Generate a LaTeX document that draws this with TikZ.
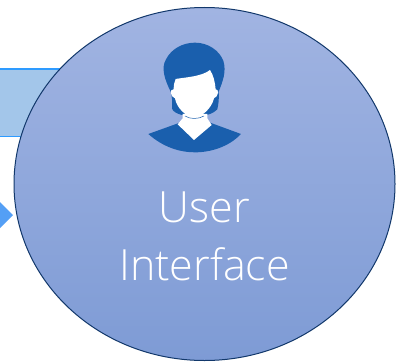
\documentclass[tikz,border=0pt]{standalone}
\usepackage{fontspec}
\setmainfont{Open Sans Light}
\usetikzlibrary{shapes.geometric}
\definecolor{barfill}{HTML}{A3C6EA}
\definecolor{barline}{HTML}{2E9BFF}
\definecolor{tipfill}{HTML}{549FF5}
\definecolor{circline}{HTML}{12386B}
\definecolor{circtop}{HTML}{A1B4E2}
\definecolor{circbot}{HTML}{7E9BD5}
\definecolor{person}{HTML}{1A5FAD}
\tikzset{
  bar/.style={fill=barfill,draw=barline,line width=1.2pt},
  tip/.style={fill=tipfill,draw=none},
  disc/.style={ellipse,minimum width=381pt,minimum height=353pt,inner sep=0pt,draw=circline,line width=1pt,top color=circtop,bottom color=circbot},
  label/.style={text=white,font=\fontsize{43}{58}\selectfont,align=center},
  zoomed/.style={shift={(130,30)},x=0.3333pt,y=-0.3333pt}
}
\begin{document}
\begin{tikzpicture}[x=1pt,y=-1pt]
\useasboundingbox (0,0) rectangle (398,361);
\fill[white] (0,0) rectangle (398,361);
\draw[bar] (-3,69) rectangle (70,136.5);
\fill[tip] (-3,199) -- (13,215) -- (-3,231) -- cycle;
\node[disc] (face) at (204.5,184) {};
\begin{scope}[zoomed]
\fill[person] (122,185) .. controls (105,150) and (92,115) .. (108,88) .. controls (125,55) and (160,38) .. (195,38) .. controls (235,38) and (268,62) .. (280,92) .. controls (290,125) and (278,155) .. (266,185) .. controls (268,205) and (265,225) .. (262,238) .. controls (250,250) and (235,255) .. (225,255) -- (155,255) .. controls (140,250) and (128,245) .. (126,235) .. controls (128,220) and (126,200) .. (122,185) -- cycle;
\fill[person] (155,276) -- (55,312) .. controls (100,352) and (150,367) .. (195,367) .. controls (240,367) and (295,352) .. (333,312) -- (235,276) -- cycle;
\fill[white] (137,147) .. controls (165,142) and (215,140) .. (240,120) .. controls (250,135) and (255,155) .. (257,178) .. controls (268,176) and (266,200) .. (252,205) .. controls (245,235) and (215,262) .. (193,262) .. controls (170,262) and (140,235) .. (135,205) .. controls (120,200) and (118,176) .. (131,178) .. controls (131,165) and (133,155) .. (137,147) -- cycle;
\fill[white] (158,252) -- (232,252) -- (232,265) -- (245,285) -- (192,330) -- (143,283) -- (158,265) -- cycle;
\draw[person,line width=0.5pt] (165,258) .. controls (180,268) and (205,268) .. (222,258);
\draw[person,line width=1pt] (160,140) -- (172,128) (182,137) -- (195,125) (205,132) -- (218,122);
\end{scope}
\node[label] (caption) at (204.5,236) {User\\Interface};
\end{tikzpicture}
\end{document}
